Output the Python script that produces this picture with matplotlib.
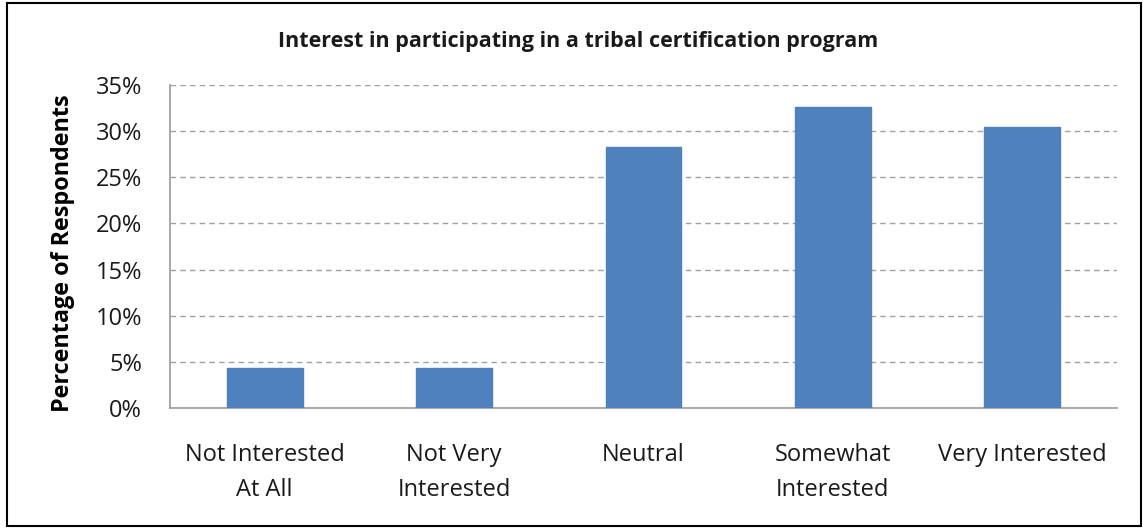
import matplotlib
matplotlib.use("Agg")
import matplotlib.pyplot as plt
from matplotlib.patches import Rectangle

plt.rcParams['font.family'] = ['Open Sans', 'DejaVu Sans']

# Data
categories = ['Not Interested\nAt All', 'Not Very\nInterested', 'Neutral',
              'Somewhat\nInterested', 'Very Interested']
percent = [4.35, 4.35, 28.26, 32.61, 30.43]
yticks = [0, 5, 10, 15, 20, 25, 30, 35]
ytick_labels = ['0%', '5%', '10%', '15%', '20%', '25%', '30%', '35%']

fig = plt.figure(figsize=(11.43, 5.29), dpi=100)
ax = fig.add_axes([0.1487, 0.2287, 0.8286, 0.6106])

x = range(len(categories))
ax.bar(x, percent, width=0.4, color='#4F81BD', edgecolor='#4F81BD', zorder=3)

ax.set_xlim(-0.5, len(categories) - 0.5)
ax.set_ylim(0, 35)
ax.set_yticks(yticks)
ax.set_yticklabels(ytick_labels, fontsize=17)
ax.set_xticks(list(x))
ax.set_xticklabels(categories, fontsize=17, linespacing=1.65)
ax.tick_params(axis='both', length=0, colors='#1a1a1a')
ax.tick_params(axis='y', pad=20)
ax.tick_params(axis='x', pad=25)

ax.yaxis.grid(True, linestyle=(0, (4, 3)), color='#a0a0a0', linewidth=1, zorder=0)
for s in ['top', 'right']:
    ax.spines[s].set_visible(False)
for s in ['left', 'bottom']:
    ax.spines[s].set_color('#9a9a9a')
    ax.spines[s].set_linewidth(1.2)

ax.set_ylabel('Percentage of Respondents', fontsize=16.8, fontweight='bold')
ax.yaxis.set_label_coords(-0.100, 0.48)
fig.text(0.506, 0.922, 'Interest in participating in a tribal certification program',
         ha='center', va='center', fontsize=15.5, fontweight='bold', color='#1a1a1a')

# outer border
fig.add_artist(Rectangle((0.006, 0.006), 0.992, 0.988, transform=fig.transFigure,
                         fill=False, edgecolor='black', linewidth=1.5))

fig.savefig('out.png', dpi=100)
